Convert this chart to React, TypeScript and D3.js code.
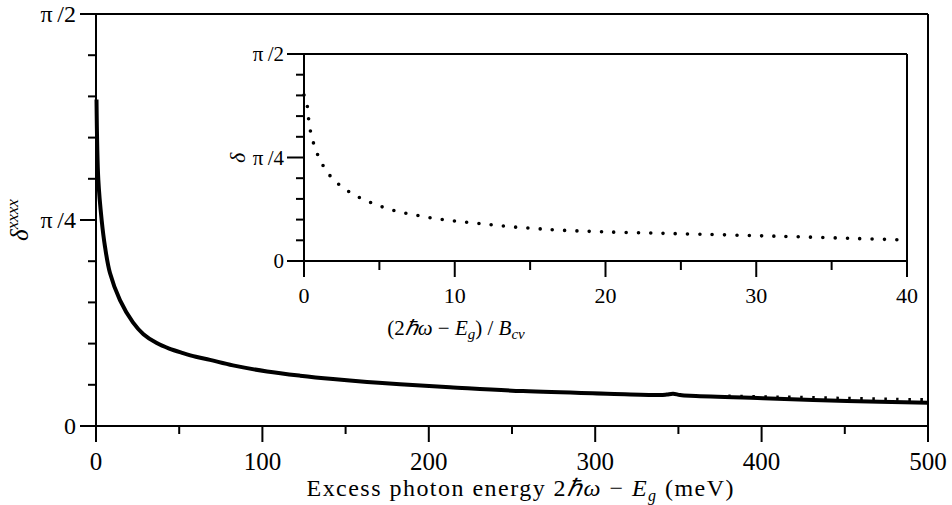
import React from "react";
import * as d3 from "d3";

// Main curve: delta^xxxx vs excess photon energy (meV)
const mainX = [0.3, 1.4, 3.4, 5.4, 8.4, 14.4, 22.2, 28.5, 36.5, 44, 52.3, 60, 68.5, 82.3, 102.8, 122.6, 142.4, 162.9, 182.7, 212.7, 256.6, 307.1, 338.9, 343, 346.8, 351, 357, 400.8, 451.3, 500];
const mainY = [1.245, 0.938, 0.785, 0.684, 0.583, 0.48, 0.395, 0.35, 0.316, 0.295, 0.278, 0.264, 0.252, 0.231, 0.208, 0.192, 0.179, 0.168, 0.159, 0.148, 0.133, 0.123, 0.118, 0.12, 0.123, 0.118, 0.115, 0.106, 0.095, 0.0885];
// Dotted comparison curve (visible where it departs from the solid one)
const dotX = [380, 400, 420, 450, 480, 500];
const dotY = [0.111, 0.108, 0.106, 0.102, 0.0985, 0.0965];
// Inset: delta vs (2hw - Eg)/Bcv
const insetX = [0, 0.15, 0.25, 0.35, 0.51, 0.75, 1.06, 1.48, 1.97, 2.61, 3.3, 4.03, 4.78, 5.56, 6.38, 7.18, 7.97, 8.79, 9.61, 10.43, 12.07, 13.71, 15.35, 16.99, 19.67, 23, 26.3, 30, 33, 36.5, 40];
const insetY = [1.26, 1.23, 1.14, 1.037, 0.943, 0.855, 0.767, 0.686, 0.615, 0.556, 0.503, 0.463, 0.427, 0.397, 0.37, 0.354, 0.336, 0.321, 0.309, 0.298, 0.279, 0.26, 0.246, 0.234, 0.222, 0.212, 0.203, 0.192, 0.183, 0.171, 0.159];

const mainXMajor = [0, 100, 200, 300, 400, 500];
const mainXMinor = [50, 150, 250, 350, 450];
const insetXMajor = [0, 10, 20, 30, 40];
const insetXMinor = [5, 15, 25, 35];
const yMajor = [0, Math.PI / 4, Math.PI / 2];
const yMajorLabels = ["0", "π\u2009/4", "π\u2009/2"];
const yMinor = [1, 2, 3, 4, 6, 7, 8, 9].map((k) => (k * Math.PI) / 20);

const FONT = "'Liberation Serif', 'Times New Roman', serif";

export default function App() {
  const x = d3.scaleLinear().domain([0, 500]).range([96, 928]);
  const y = d3.scaleLinear().domain([0, Math.PI / 2]).range([426, 14]);
  const xi = d3.scaleLinear().domain([0, 40]).range([304, 907]);
  const yi = d3.scaleLinear().domain([0, Math.PI / 2]).range([261, 54]);

  const mainData = mainX.map((v, i) => [v, mainY[i]] as [number, number]);
  const dotData = dotX.map((v, i) => [v, dotY[i]] as [number, number]);
  const insetData = insetX.map((v, i) => [v, insetY[i]] as [number, number]);

  const lineMain = d3.line<[number, number]>().x((d) => x(d[0])).y((d) => y(d[1])).curve(d3.curveCatmullRom.alpha(0.5));
  const lineInset = d3.line<[number, number]>().x((d) => xi(d[0])).y((d) => yi(d[1])).curve(d3.curveCatmullRom.alpha(0.5));

  const ax = { stroke: "#000", strokeWidth: 2, fill: "none" } as const;

  return (
    <svg width={952} height={505} style={{ position: "absolute", left: 0, top: 0, background: "#fff" }} fontFamily={FONT}>
      <rect x={0} y={0} width={952} height={505} fill="#fff" />
      {/* Main frame */}
      <line x1={80} x2={x(500)} y1={y(Math.PI / 2)} y2={y(Math.PI / 2)} {...ax} />
      <line x1={80} x2={x(500)} y1={y(0)} y2={y(0)} {...ax} />
      <line x1={x(0)} x2={x(0)} y1={y(Math.PI / 2)} y2={y(0) + 16} {...ax} />
      <line x1={x(500)} x2={x(500)} y1={y(Math.PI / 2)} y2={y(0) + 16} {...ax} />
      {mainXMajor.map((t) => (
        <g key={"mx" + t}>
          <line x1={x(t)} x2={x(t)} y1={y(0)} y2={y(0) + 16} {...ax} />
          <text x={x(t)} y={470} fontSize={25} textAnchor="middle">{t}</text>
        </g>
      ))}
      {mainXMinor.map((t) => (
        <line key={"mxm" + t} x1={x(t)} x2={x(t)} y1={y(0)} y2={y(0) + 8} {...ax} />
      ))}
      {yMajor.map((t, i) => (
        <g key={"my" + i}>
          <line x1={x(0) - 16} x2={x(0)} y1={y(t)} y2={y(t)} {...ax} />
          <text x={76} y={y(t)} dy="0.35em" fontSize={24} textAnchor="end">{yMajorLabels[i]}</text>
        </g>
      ))}
      {yMinor.map((t, i) => (
        <line key={"mym" + i} x1={x(0) - 8} x2={x(0)} y1={y(t)} y2={y(t)} {...ax} />
      ))}
      <text x={520} y={496} fontSize={24} textAnchor="middle" textLength={427} lengthAdjust="spacing">
        Excess photon energy 2<tspan fontStyle="italic">ℏω</tspan> − <tspan fontStyle="italic">E</tspan>
        <tspan fontStyle="italic" fontSize={16} dy={5}>g</tspan>
        <tspan dy={-5}> (meV)</tspan>
      </text>
      <text transform="translate(28,220) rotate(-90)" fontSize={25} textAnchor="middle" fontStyle="italic">
        δ<tspan fontSize={17} dy={-10}>xxxx</tspan>
      </text>

      {/* Main curves */}
      <path d={lineMain(mainData) || ""} fill="none" stroke="#000" strokeWidth={4} strokeLinejoin="round" />
      <path d={lineMain(dotData) || ""} fill="none" stroke="#000" strokeWidth={3} strokeDasharray="2.5 9.5" transform="translate(0,-1)" />

      {/* Inset frame */}
      <line x1={287} x2={xi(40)} y1={yi(Math.PI / 2)} y2={yi(Math.PI / 2)} {...ax} />
      <line x1={287} x2={xi(40)} y1={yi(0)} y2={yi(0)} {...ax} />
      <line x1={xi(0)} x2={xi(0)} y1={yi(Math.PI / 2)} y2={yi(0) + 16} {...ax} />
      <line x1={xi(40)} x2={xi(40)} y1={yi(Math.PI / 2)} y2={yi(0) + 16} {...ax} />
      {insetXMajor.map((t) => (
        <g key={"ix" + t}>
          <line x1={xi(t)} x2={xi(t)} y1={yi(0)} y2={yi(0) + 16} {...ax} />
          <text x={xi(t)} y={303} fontSize={22} textAnchor="middle">{t}</text>
        </g>
      ))}
      {insetXMinor.map((t) => (
        <line key={"ixm" + t} x1={xi(t)} x2={xi(t)} y1={yi(0)} y2={yi(0) + 9} {...ax} />
      ))}
      {yMajor.map((t, i) => (
        <g key={"iy" + i}>
          <line x1={xi(0) - 17} x2={xi(0)} y1={yi(t)} y2={yi(t)} {...ax} />
          <text x={284} y={yi(t)} dy="0.35em" fontSize={21} textAnchor="end">{yMajorLabels[i]}</text>
        </g>
      ))}
      {yMinor.map((t, i) => (
        <line key={"iym" + i} x1={xi(0) - 8} x2={xi(0)} y1={yi(t)} y2={yi(t)} {...ax} />
      ))}
      <text x={456} y={335} fontSize={21} textAnchor="middle">
        (2<tspan fontStyle="italic">ℏω</tspan> − <tspan fontStyle="italic">E</tspan>
        <tspan fontStyle="italic" fontSize={15} dy={4}>g</tspan>
        <tspan dy={-4}>) / </tspan>
        <tspan fontStyle="italic">B</tspan>
        <tspan fontStyle="italic" fontSize={15} dy={4}>cv</tspan>
      </text>
      <text transform="translate(245,158) rotate(-90)" fontSize={22} textAnchor="middle" fontStyle="italic">δ</text>
      <path d={lineInset(insetData) || ""} fill="none" stroke="#000" strokeWidth={3.6} strokeLinecap="round" strokeDasharray="0 12.3" />
    </svg>
  );
}
